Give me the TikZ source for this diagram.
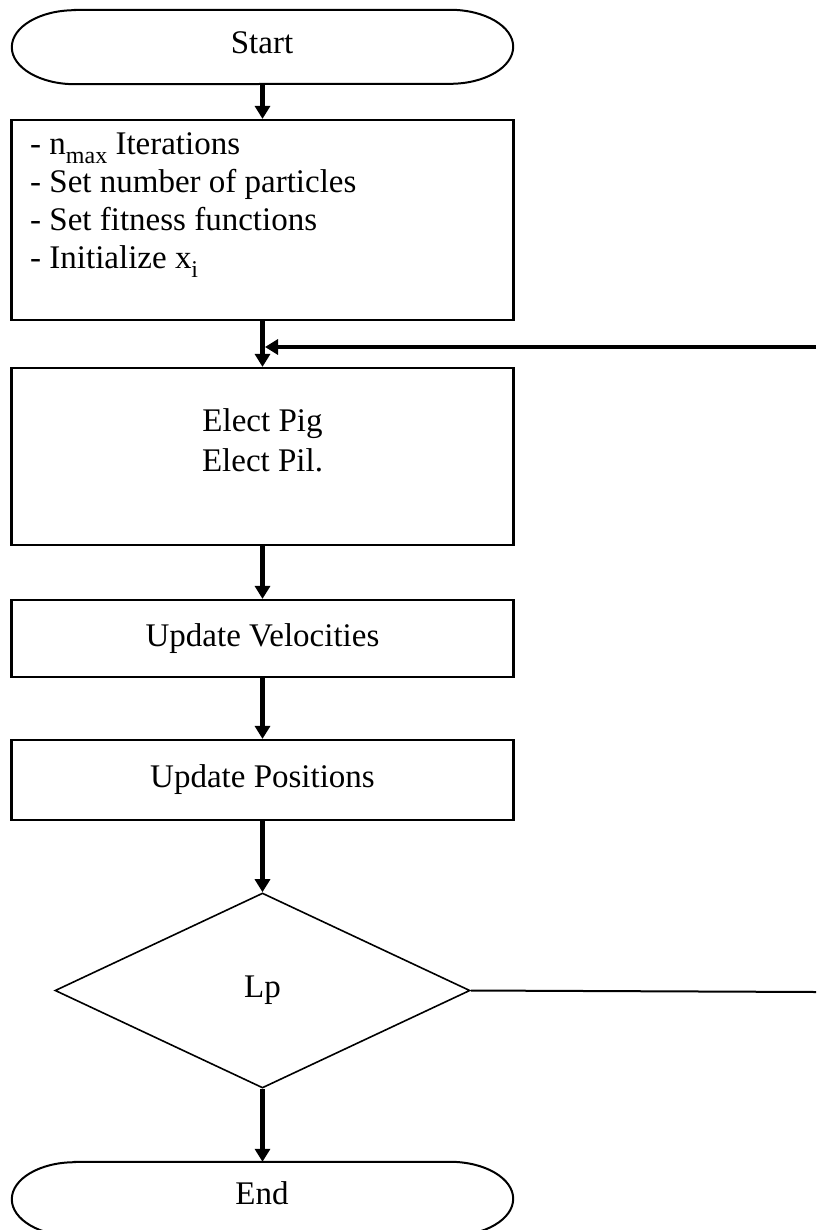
\documentclass[tikz,border=0pt]{standalone}
\usepackage{fontspec}
\setmainfont{Liberation Serif}
\usetikzlibrary{arrows.meta,shapes.geometric,calc}
% lowered, slightly smaller index text
\newcommand{\subtxt}[1]{\raisebox{-0.28em}{\fontsize{24}{24}\selectfont #1}}
\begin{document}
\begin{tikzpicture}[x=1pt,y=1pt,
  boxnode/.style={draw, line width=2.2pt, minimum width=502pt, inner sep=0pt},
  flow/.style={line width=4.5pt, -{Triangle[length=13pt,width=15pt]}},
  thinline/.style={line width=2pt},
  txt/.style={font=\fontsize{33}{38}\selectfont, inner sep=0pt},
  termline/.style={line width=2pt},
]
\useasboundingbox (0,0) rectangle (816,-1230);
\fill[white] (0,0) rectangle (816,-1230);

% start terminal
\node[inner sep=0pt, minimum width=501pt, minimum height=74pt] (start) at (262.5,-47) {};
\node[txt] (startT) at (262,-43) {Start};
\draw[termline] ($(start.north west)+(63,0)$) -- ($(start.north east)+(-63,0)$)
  arc[start angle=90,end angle=-90,x radius=63pt,y radius=37pt]
  -- ($(start.south west)+(63,0)$)
  arc[start angle=270,end angle=90,x radius=63pt,y radius=37pt] -- cycle;

% initialisation box
\node[boxnode, minimum height=200pt] (init) at (262.5,-220) {};
\node[txt, anchor=north west, align=left] (initT) at (30,-132)
  {- n\subtxt{max} Iterations\\- Set number of particles\\- Set fitness functions\\- Initialize x\subtxt{i}};

% leader election
\node[boxnode, minimum height=177pt] (elect) at (262.5,-456.5) {};
\node[txt, align=center] (electT) at (262.5,-440) {Elect Pig\\[2pt]Elect Pil.};

% updates
\node[boxnode, minimum height=77pt, txt, draw, line width=2.2pt, minimum width=502pt] (uv) at (262.5,-638.5) {Update Velocities};
\node[boxnode, minimum height=80pt, txt, draw, line width=2.2pt, minimum width=502pt] (up) at (262.5,-780) {Update Positions};

% decision
\node[diamond, draw, line width=1.6pt, minimum width=415pt, minimum height=195pt, aspect=2.1, inner sep=0pt, font=\fontsize{33}{38}\selectfont] (dec) at (262.5,-990.5) {Lp};

% end terminal
\node[inner sep=0pt, minimum width=501pt, minimum height=74pt] (end) at (262.5,-1199) {};
\node[txt] (endT) at (262,-1193) {End};
\draw[termline] ($(end.north west)+(63,0)$) -- ($(end.north east)+(-63,0)$)
  arc[start angle=90,end angle=-90,x radius=63pt,y radius=37pt]
  -- ($(end.south west)+(63,0)$)
  arc[start angle=270,end angle=90,x radius=63pt,y radius=37pt] -- cycle;

% main flow
\draw[flow] (start) -- (init);
\draw[flow] (init) -- (elect);
\draw[flow] (elect) -- (uv);
\draw[flow] (uv) -- (up);
\draw[flow] (up) -- (dec);
\draw[flow] (dec) -- (end);

% loop back
\coordinate (decR) at (816,-992);
\coordinate (fbR) at (816,-347);
\coordinate (fbJ) at (265,-347);
\draw[thinline] (dec.east) -- (decR);
\draw[flow] (fbR) -- (fbJ);
\end{tikzpicture}
\end{document}
